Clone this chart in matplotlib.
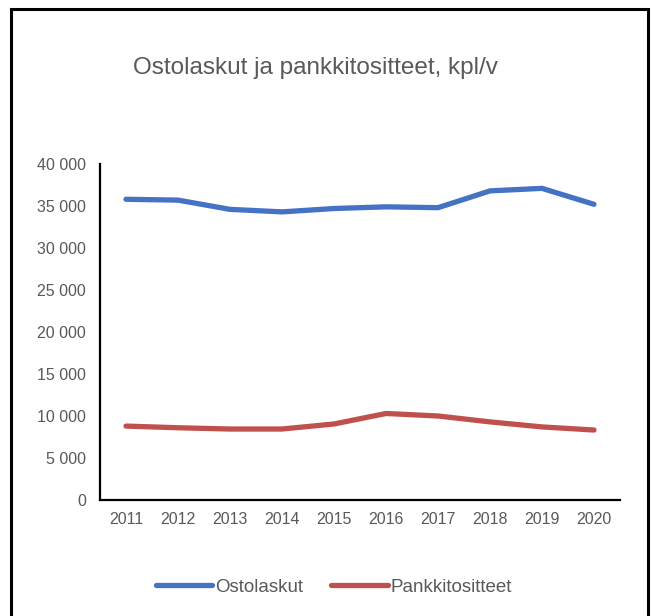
import matplotlib
matplotlib.use("Agg")
import matplotlib.pyplot as plt
from matplotlib.patches import Rectangle
from matplotlib.ticker import FuncFormatter, MultipleLocator

years = ["2011", "2012", "2013", "2014", "2015", "2016", "2017", "2018", "2019", "2020"]
ostolaskut = [35800, 35700, 34600, 34300, 34700, 34900, 34800, 36800, 37100, 35200]
pankkitositteet = [8800, 8600, 8450, 8450, 9050, 10300, 10000, 9300, 8700, 8330]

title = "Ostolaskut ja pankkitositteet, kpl/v"
blue = "#4472C4"
red = "#C0504D"
gray = "#595959"

plt.rcParams["font.family"] = ["Liberation Sans", "DejaVu Sans"]

fig = plt.figure(figsize=(6.52, 6.16), dpi=100)
ax = fig.add_axes([100 / 652, 1 - 500 / 616, 520 / 652, 336 / 616])

x = list(range(len(years)))
ax.plot(x, ostolaskut, color=blue, lw=3.8, solid_capstyle="round", label="Ostolaskut")
ax.plot(x, pankkitositteet, color=red, lw=3.8, solid_capstyle="round", label="Pankkitositteet")

ax.set_xlim(-0.5, len(years) - 0.5)
ax.set_ylim(0, 40000)
ax.yaxis.set_major_locator(MultipleLocator(5000))
ax.yaxis.set_major_formatter(FuncFormatter(lambda v, p: f"{int(v):,}".replace(",", " ")))
ax.set_xticks(x)
ax.set_xticklabels(years)

for s in ["top", "right"]:
    ax.spines[s].set_visible(False)
for s in ["left", "bottom"]:
    ax.spines[s].set_color("black")
    ax.spines[s].set_linewidth(1.6)

ax.tick_params(axis="both", length=0, labelsize=11.5, labelcolor=gray)
ax.tick_params(axis="y", pad=10)
ax.tick_params(axis="x", pad=9)

fig.text(315 / 652, 1 - 68 / 616, title, ha="center", va="center", fontsize=17.5, color=gray)

leg = fig.legend(loc="center", bbox_to_anchor=(334 / 652, 1 - 587 / 616), ncol=2, frameon=False,
                 fontsize=13.5, handlelength=3.0, handletextpad=0.15, columnspacing=1.5)
for t in leg.get_texts():
    t.set_color(gray)

fig.patches.append(Rectangle((11 / 652, -0.05), 637 / 652, 1.05 - 9 / 616, transform=fig.transFigure,
                             fill=False, edgecolor="black", linewidth=2.2))

fig.savefig("out.png", dpi=100)
